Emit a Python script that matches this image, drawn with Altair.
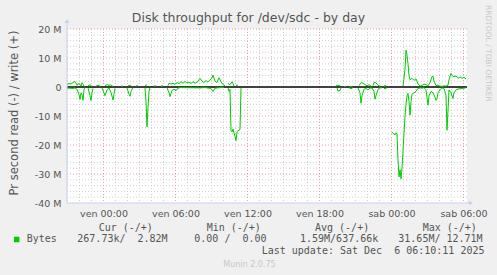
import altair as alt
import pandas as pd

# ---------------- data (munin 5-minute samples, 400 samples per "day" graph) -------------
START_H = -3.04          # first sample, hours relative to Fri 00:00 (Thu ~20:58)
STEP_H = 5 / 60          # 5 minute resolution
N_SAMPLES = 400

# write (+) series, MB/s ; None = no data (gap)
write_idx = [0, 2, 4, 6, 8, 9, 10, 11, 13, 14, 15, 16, 17, None,
             21, 23, 25, None,
             29, 31, 33, None,
             38, 40, 42, 44, 46, None,
             54, 56, None,
             61, 64, None,
             69, 71, None,
             78, 80, None,
             87, 89, None,
             94, 96, None,
             101, 102, 104, 106, 108, 110, 112, 114, 116, 118, 120, 122, 124, 126, 128, 130,
             132, 133, 135, 137, 139, 141, 143, 145, 146, 148, 150, 152, 154, 156, 158, None,
             161, 163, 165, 166, 167, None,
             169, 171, None,
             269, 271, 273, None,
             277, 279, None,
             283, 285, None,
             292, 294, 296, 298, 300, 302, 304, None,
             306, 307, 309, 311, 313, None,
             317, 319, None,
             336, 338, 339, 340, 341, 342, 343, 345, 347, 349, 350, 351, 353, 355, 357, 359,
             361, 363, 365, 366, 367, 369, 371, 373, 375, 377, 379, 381, 382, 384, 385, 387,
             389, 391, 393, 395, 397, 399]
write_val = [0.8, 1.2, 1.0, 1.6, 1.9, 1.3, 0.6, 1.2, 0.9, 0.3, 1.5, 1.0, 0.2, None,
             0.4, 0.8, 0.2, None,
             0.3, 0.6, 0.3, None,
             0.5, 0.8, 0.6, 0.7, 0.2, None,
             0.3, 0.3, None,
             0.4, 0.6, None,
             0.4, 0.4, None,
             0.5, 0.8, None,
             0.3, 0.4, None,
             0.3, 0.4, None,
             0.5, 1.3, 1.0, 1.3, 0.9, 1.5, 1.2, 1.8, 1.3, 1.9, 1.4, 1.7, 1.2, 1.8, 1.3, 1.6,
             2.5, 3.0, 2.0, 1.6, 2.2, 1.7, 2.4, 3.2, 4.1, 2.0, 1.5, 3.2, 1.8, 0.8, 0.4, None,
             1.2, 0.8, 1.8, 1.2, 0.3, None,
             0.6, 0.6, None,
             0.4, 0.6, 0.4, None,
             0.2, 0.2, None,
             0.2, 0.2, None,
             0.5, 1.5, 1.3, 0.8, 0.4, 0.8, 0.3, None,
             0.5, 1.6, 1.4, 0.6, 0.3, None,
             0.3, 0.5, None,
             0.2, 6.0, 12.71, 11.0, 8.0, 4.0, 2.5, 3.0, 2.3, 2.8, 2.0, 1.0, 0.3, 0.5, 1.0, 0.8,
             0.3, 1.5, 3.6, 3.7, 2.0, 0.5, 0.6, 0.3, 0.2, 0.4, 0.3, 0.6, 2.5, 4.7, 4.0, 3.5,
             3.8, 3.0, 3.5, 3.0, 3.3, 2.82]

# read (-) series, MB/s (drawn negative)
read_idx = [0, 3, 6, 8, 10, 12, 13, 14, 15, 16, 17, 18, None,
            21, 23, 24, 25, 26, None,
            35, 37, 38, 40, 42, 44, 46, 47, 48, None,
            60, 62, 63, 64, 66, None,
            78, 79, 80, 81, 82, 83, None,
            100, 102, 103, 105, 107, 109, 111, 113, 133, 138, 144, 146, 148, 153, 157, None,
            161, 162, 163, 164, 165, 166, 168, 169, 170, 171, 172, 173, 174, None,
            270, 271, 273, 274, None,
            282, 284, 286, None,
            291, 293, 294, 295, 297, 299, 301, 303, 305, 307, 308, 309, 311, 313, 315, None,
            317, 318, 320, None,
            325, 326, 328, 329, 330, 331, 332, 333, 334, 335, 336, 337, 338, 339, 340, 341,
            342, 343, 344, 345, 347, 349, 351, 353, 355, 357, 359, 361, 362, 364, 366, 368,
            369, 370, 371, 373, 375, 377, 379, 380, 381, 382, 384, 386, 387, 389, 391, 393,
            395, 397, 399]
read_val = [-0.4, -0.4, -0.5, -0.3, -0.8, -2.5, -4.3, -2.0, -2.5, -4.6, -1.0, -0.2, None,
            -0.3, -3.0, -4.7, -2.0, -0.5, None,
            -0.3, -2.0, -3.0, -1.0, -0.3, -1.8, -4.5, -2.5, -0.5, None,
            -0.3, -2.5, -3.2, -1.5, -0.3, None,
            -0.3, -5.0, -13.7, -7.0, -1.5, -0.3, None,
            -0.3, -2.0, -3.3, -1.2, -0.8, -1.3, -0.4, -0.2, -0.3, -0.2, -0.5, -1.6, -0.4, -0.2, -0.1, None,
            -0.3, -1.5, -0.8, -15.0, -15.5, -14.5, -17.0, -18.5, -15.5, -15.0, -15.0, -14.5, -0.3, None,
            -0.3, -1.4, -1.2, -0.3, None,
            -0.2, -0.6, -0.2, None,
            -0.3, -2.0, -5.6, -3.0, -0.8, -0.5, -1.0, -0.4, -0.3, -1.5, -4.2, -3.0, -0.8, -0.3, -0.2, None,
            -0.3, -0.7, -0.2, None,
            -15.5, -16.0, -16.5, -15.8, -16.2, -25.0, -31.0, -28.5, -31.65, -28.0, -22.0, -16.0, -10.0, -6.0, -3.0, -2.2,
            -5.0, -9.7, -5.0, -2.5, -2.0, -1.5, -0.5, -0.3, -0.4, -0.2, -1.0, -6.3, -3.0, -1.5, -2.0, -3.5,
            -4.6, -4.0, -2.0, -1.0, -0.3, -0.5, -3.0, -14.9, -8.0, -1.0, -2.0, -4.0, -2.0, -1.0, -0.7, -0.6,
            -0.5, -0.4, -0.27]

x_major = [0, 6, 12, 18, 24, 30]
x_minor = [h for h in range(-3, 31) if h % 6 != 0]
y_ticks = [20, 10, 0, -10, -20, -30, -40]
y_major = [20, 10, -10, -20, -30]
y_minor = [v for v in range(-38, 20, 2) if v % 10 != 0]

TITLE = "Disk throughput for /dev/sdc - by day"
Y_TITLE = "Pr second read (-) / write (+)"
legend_heads = ["Cur (-/+)", "Min (-/+)", "Avg (-/+)", "Max (-/+)"]
legend_vals = ["267.73k/  2.82M", "0.00 /  0.00", "1.59M/637.66k", "31.65M/ 12.71M"]
series_name = "Bytes"
last_update = "Last update: Sat Dec  6 06:10:11 2025"
munin_ver = "Munin 2.0.75"
rrd_mark = "RRDTOOL / TOBI OETIKER"

# ---------------- build tables ----------------
def to_rows(idx, vals, name):
    rows, seg = [], 0
    for i, v in zip(idx, vals):
        if v is None:
            seg += 1
            continue
        rows.append({"h": START_H + i * STEP_H, "v": v, "s": f"{name}{seg}"})
    return rows

df = pd.DataFrame(to_rows(write_idx, write_val, "w") + to_rows(read_idx, read_val, "r"))

W, H = 400, 174
PL, PT = 67, 29
GREEN = "#00CC00"
TXT = "#555555"
AXC = "#C9D0F2"
SANS = "DejaVu Sans"
MONO = "DejaVu Sans Mono"
NBSP = "\u00a0"

xscale = alt.Scale(domain=[START_H, START_H + N_SAMPLES * STEP_H], nice=False, zero=False)
yscale = alt.Scale(domain=[-40, 20], nice=False, zero=False)

x_axis = alt.Axis(values=x_major, grid=False, domain=False, ticks=False, title=None,
                  labelExpr="(datum.value < 24 ? 'ven ' : 'sab ') + (datum.value % 24 < 10 ? '0' : '') + (datum.value % 24) + ':00'",
                  labelFont=SANS, labelFontSize=9.5, labelColor=TXT, labelPadding=5)
y_axis = alt.Axis(values=y_ticks, grid=False, domain=False, ticks=False, title=None,
                  labelExpr="datum.value == 0 ? '0' : datum.value + ' M'",
                  labelFont=SANS, labelFontSize=9.5, labelColor=TXT, labelPadding=6)

X = alt.X("h:Q", scale=xscale, axis=x_axis)
Y = alt.Y("v:Q", scale=yscale, axis=y_axis)

grid_minor_x = alt.Chart(pd.DataFrame({"h": x_minor})).mark_rule(
    color="#D0D0D0", strokeDash=[1, 2], strokeWidth=1).encode(x=X)
grid_minor_y = alt.Chart(pd.DataFrame({"v": y_minor})).mark_rule(
    color="#D0D0D0", strokeDash=[1, 2], strokeWidth=1).encode(y=Y)
grid_major_x = alt.Chart(pd.DataFrame({"h": x_major})).mark_rule(
    color="#E6A0A0", strokeDash=[1, 2], strokeWidth=1).encode(x=X)
grid_major_y = alt.Chart(pd.DataFrame({"v": y_major})).mark_rule(
    color="#E6A0A0", strokeDash=[1, 2], strokeWidth=1).encode(y=Y)
zero_line = alt.Chart(pd.DataFrame({"v": [0]})).mark_rule(
    color="#000000", strokeWidth=1.3).encode(y=Y)

lines = alt.Chart(df).mark_line(color=GREEN, strokeWidth=1, interpolate="linear").encode(
    x=X, y=Y, detail="s:N", order="h:Q")

dummy = pd.DataFrame({"a": [0]})

def rule(x, y, x2=None, y2=None):
    enc = dict(x=alt.value(x - PL), y=alt.value(y - PT))
    if x2 is not None:
        enc["x2"] = alt.value(x2 - PL)
    if y2 is not None:
        enc["y2"] = alt.value(y2 - PT)
    return alt.Chart(dummy).mark_rule(color=AXC, strokeWidth=1).encode(**enc)

def txt(t, x, y, size=10, font=MONO, color=TXT, align="left", baseline="alphabetic", angle=0):
    t = t.replace(" ", NBSP) if font == MONO else t
    return alt.Chart(dummy).mark_text(text=t, font=font, fontSize=size, color=color,
                                      align=align, baseline=baseline, angle=angle).encode(
        x=alt.value(x - PL), y=alt.value(y - PT))

def pt(x, y, shape, size, color):
    return alt.Chart(dummy).mark_point(shape=shape, size=size, filled=True, color=color,
                                       opacity=1, strokeWidth=0).encode(
        x=alt.value(x - PL), y=alt.value(y - PT))

axes_deco = [
    rule(67, 21, y2=203),
    rule(67, 203, x2=471),
    pt(67, 21, "triangle-up", 22, AXC),
    pt(471, 203, "triangle-right", 22, AXC),
]

heads_x = [98.7, 206.7, 315, 422.7]
vals_x = [77.3, 194.3, 300, 398.3]
texts = [
    txt(TITLE, 248.5, 21.5, size=12.5, font=SANS, align="center"),
    txt(Y_TITLE, 15, 113, size=11.5, font=SANS, align="center", baseline="middle", angle=270),
    txt(rrd_mark, 488, 5, size=7.5, font=SANS, color="#C8C8C8", baseline="middle", angle=90),
    txt(series_name, 26.7, 242.3),
    txt(last_update, 261.7, 254.3),
    txt(munin_ver, 223.3, 266.7, size=8, font=SANS, color="#C8C8C8"),
    pt(16.7, 239.5, "square", 30, GREEN),
]
texts += [txt(t, x, 230.7) for t, x in zip(legend_heads, heads_x)]
texts += [txt(t, x, 242.3) for t, x in zip(legend_vals, vals_x)]

chart = alt.layer(
    grid_minor_x, grid_minor_y, grid_major_x, grid_major_y, zero_line, lines,
    *axes_deco, *texts
).properties(
    width=W, height=H,
    autosize=alt.AutoSizeParams(type="none"),
    padding={"left": PL, "top": PT, "right": 497 - PL - W, "bottom": 275 - PT - H},
    background="#F0F0F0",
).configure_view(stroke=None, fill="#FFFFFF")

chart.save("out.html", embed_options={"renderer": "svg", "actions": False})
